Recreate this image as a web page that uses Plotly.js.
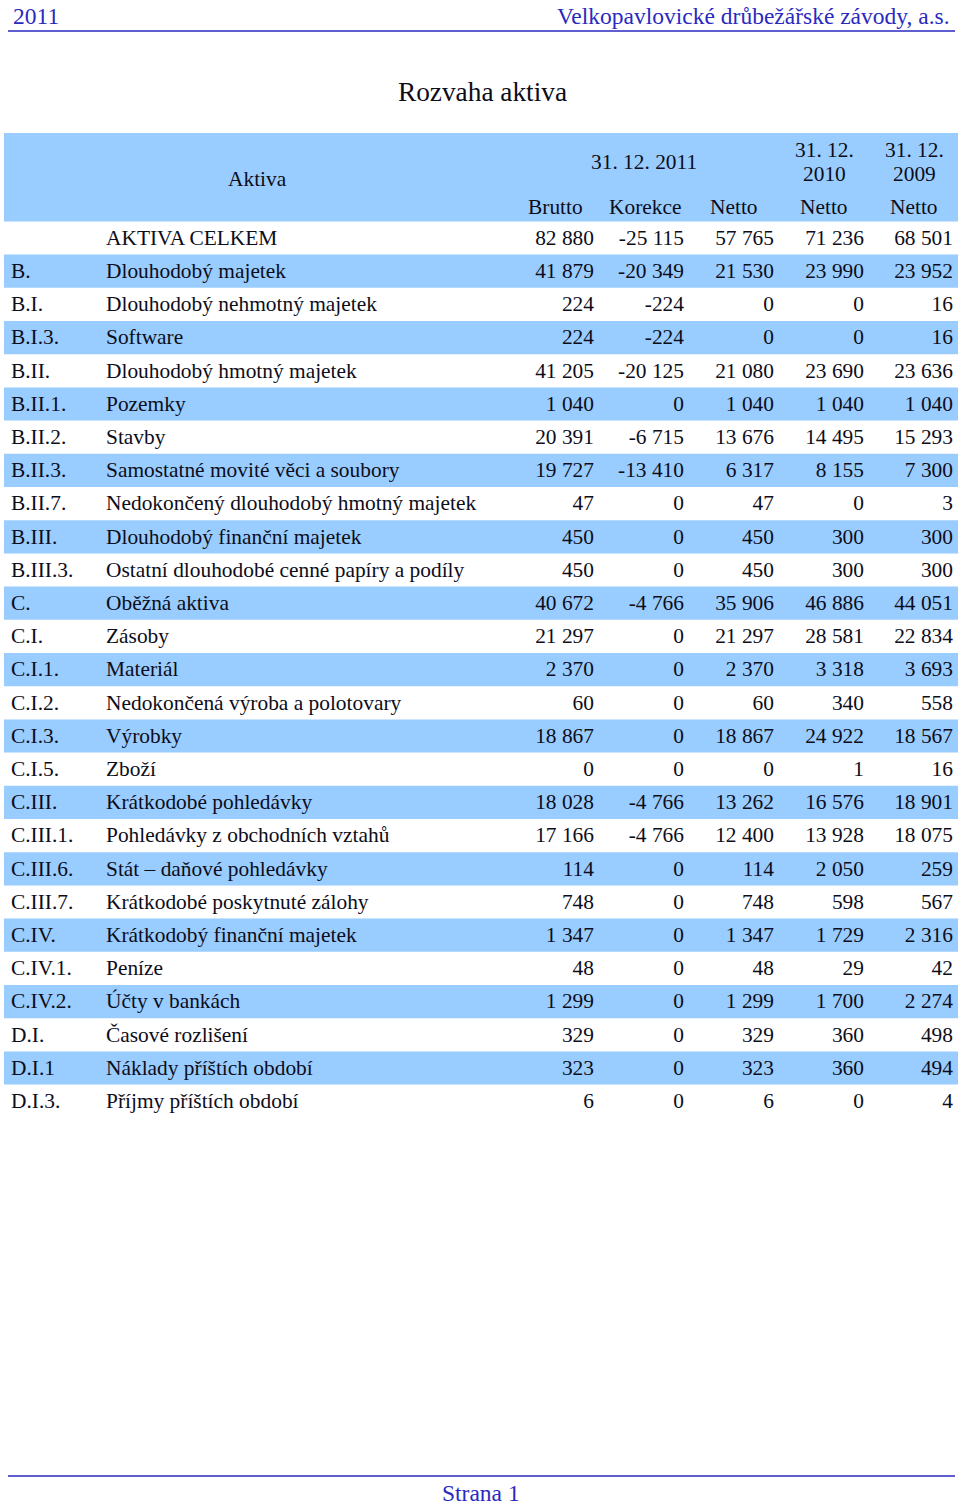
<!DOCTYPE html>
<html>
<head>
<meta charset="utf-8">
<script src="https://cdn.plot.ly/plotly-3.0.1.min.js"></script>
<style>
html,body{margin:0;padding:0;background:#fff;}
#chart{width:960px;height:1507px;}
</style>
</head>
<body>
<div id="chart"></div>
<script>
// ---- data ----
const codes = ["", "B.", "B.I.", "B.I.3.", "B.II.", "B.II.1.", "B.II.2.", "B.II.3.", "B.II.7.", "B.III.", "B.III.3.", "C.", "C.I.", "C.I.1.", "C.I.2.", "C.I.3.", "C.I.5.", "C.III.", "C.III.1.", "C.III.6.", "C.III.7.", "C.IV.", "C.IV.1.", "C.IV.2.", "D.I.", "D.I.1", "D.I.3."];
const names = ["AKTIVA CELKEM","Dlouhodobý majetek","Dlouhodobý nehmotný majetek","Software","Dlouhodobý hmotný majetek","Pozemky","Stavby","Samostatné movité věci a soubory","Nedokončený dlouhodobý hmotný majetek","Dlouhodobý finanční majetek","Ostatní dlouhodobé cenné papíry a podíly","Oběžná aktiva","Zásoby","Materiál","Nedokončená výroba a polotovary","Výrobky","Zboží","Krátkodobé pohledávky","Pohledávky z obchodních vztahů","Stát – daňové pohledávky","Krátkodobé poskytnuté zálohy","Krátkodobý finanční majetek","Peníze","Účty v bankách","Časové rozlišení","Náklady příštích období","Příjmy příštích období"];
const brutto = [82880,41879,224,224,41205,1040,20391,19727,47,450,450,40672,21297,2370,60,18867,0,18028,17166,114,748,1347,48,1299,329,323,6];
const korekce = [-25115,-20349,-224,-224,-20125,0,-6715,-13410,0,0,0,-4766,0,0,0,0,0,-4766,-4766,0,0,0,0,0,0,0,0];
const netto2011 = [57765,21530,0,0,21080,1040,13676,6317,47,450,450,35906,21297,2370,60,18867,0,13262,12400,114,748,1347,48,1299,329,323,6];
const netto2010 = [71236,23990,0,0,23690,1040,14495,8155,0,300,300,46886,28581,3318,340,24922,1,16576,13928,2050,598,1729,29,1700,360,360,0];
const netto2009 = [68501,23952,16,16,23636,1040,15293,7300,3,300,300,44051,22834,3693,558,18567,16,18901,18075,259,567,2316,42,2274,498,494,4];
const headerGroups = ["Aktiva", "31. 12. 2011", "31. 12.", "2010", "31. 12.", "2009"];
const subHeaders = ["Brutto", "Korekce", "Netto", "Netto", "Netto"];
const pageYear = "2011";
const company = "Velkopavlovické drůbežářské závody, a.s.";
const pageTitle = "Rozvaha aktiva";
const footer = "Strana 1";

// ---- layout helpers ----
const FONT = "'Liberation Serif'";
const TXT = "#0d0d1a";
const BLUE_BG = "#99ccff";
const NAVY = "#2a2abf";
const FS = 21.4;
const row0 = 238, rowH = 33.2;
const rowY = i => row0 + i * rowH;
const fmt = v => {
  const s = Math.abs(v).toString().replace(/\B(?=(\d{3})+(?!\d))/g, " ");
  return (v < 0 ? "-" : "") + s;
};
const idx = names.map((_, i) => i);
const ys = idx.map(i => rowY(i) + 1.5);

const shapes = [];
shapes.push({type:"rect", xref:"x", yref:"y", x0:4, x1:958, y0:133, y1:rowY(0)-rowH/2, fillcolor:BLUE_BG, line:{width:0}, layer:"below"});
idx.forEach(i => {
  if (i % 2 === 1) {
    shapes.push({type:"rect", xref:"x", yref:"y", x0:4, x1:958, y0:rowY(i)-rowH/2, y1:rowY(i)+rowH/2, fillcolor:BLUE_BG, line:{width:0}, layer:"below"});
  }
});
shapes.push({type:"line", xref:"x", yref:"y", x0:8, x1:955, y0:31, y1:31, line:{color:NAVY, width:1.5}});
shapes.push({type:"line", xref:"x", yref:"y", x0:8, x1:955, y0:1476, y1:1476, line:{color:NAVY, width:1.5}});

const tf = {family: FONT, size: FS, color: TXT};
function textTrace(xs, texts, pos) {
  return {type:"scatter", mode:"text", x:xs, y:ys, text:texts, textposition:pos,
          textfont:tf, hoverinfo:"skip", showlegend:false, cliponaxis:false};
}
const rightEdges = [594, 684, 774, 864, 953];
const numCols = [brutto, korekce, netto2011, netto2010, netto2009];
const traces = [
  textTrace(idx.map(() => 11), codes, "middle right"),
  textTrace(idx.map(() => 106), names, "middle right"),
];
numCols.forEach((col, k) => traces.push(textTrace(idx.map(() => rightEdges[k]), col.map(fmt), "middle left")));

const ann = (x, y, text, opts={}) => Object.assign({xref:"x", yref:"y", x, y, text, showarrow:false,
  font:{family:FONT, size:FS, color:TXT}, xanchor:"center", yanchor:"middle"}, opts);
const annotations = [
  ann(257, 179, headerGroups[0]),
  ann(644, 162, headerGroups[1]),
  ann(824, 150, headerGroups[2]),
  ann(824, 174, headerGroups[3]),
  ann(914, 150, headerGroups[4]),
  ann(914, 174, headerGroups[5]),
  ann(555, 207, subHeaders[0]),
  ann(645, 207, subHeaders[1]),
  ann(734, 207, subHeaders[2]),
  ann(824, 207, subHeaders[3]),
  ann(914, 207, subHeaders[4]),
  ann(482, 92, pageTitle, {font:{family:FONT, size:27.3, color:TXT}}),
  ann(11, 16, pageYear, {xanchor:"left", font:{family:FONT, size:23.5, color:NAVY}}),
  ann(952, 16, company, {xanchor:"right", font:{family:FONT, size:23.5, color:NAVY}}),
  ann(481, 1493, footer, {font:{family:FONT, size:23.5, color:NAVY}}),
];

const layout = {
  width:960, height:1507,
  margin:{l:0, r:0, t:0, b:0, pad:0},
  paper_bgcolor:"#fff", plot_bgcolor:"#fff",
  font:{family:FONT},
  xaxis:{range:[0,960], visible:false, fixedrange:true},
  yaxis:{range:[1507,0], visible:false, fixedrange:true},
  shapes, annotations, showlegend:false
};
Plotly.newPlot("chart", traces, layout, {displayModeBar:false, staticPlot:true});
</script>
</body>
</html>
